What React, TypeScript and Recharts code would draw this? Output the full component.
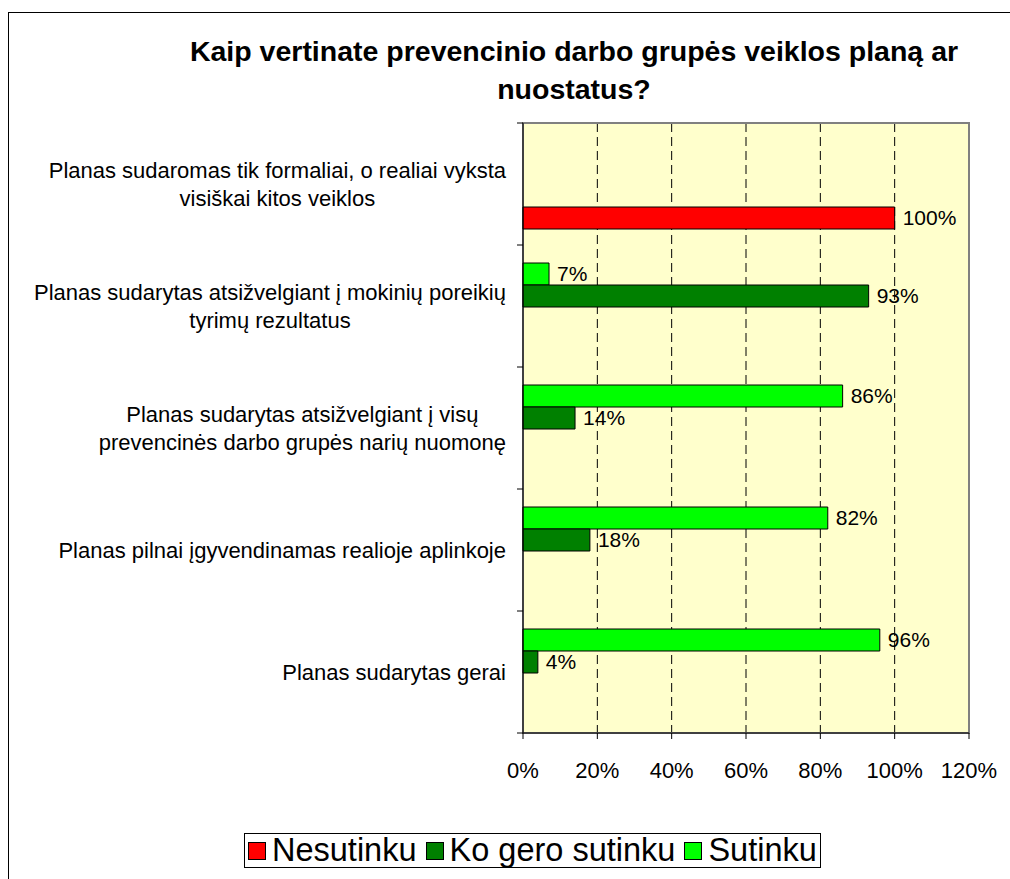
import React from "react";
import {
  BarChart,
  Bar,
  XAxis,
  YAxis,
  CartesianGrid,
  LabelList,
  ReferenceArea,
} from "recharts";

const categories = [
  "Planas sudaromas tik formaliai, o realiai vyksta\nvisiškai kitos veiklos",
  "Planas sudarytas atsižvelgiant į mokinių poreikių\ntyrimų rezultatus",
  "Planas sudarytas atsižvelgiant į visų\nprevencinės darbo grupės narių nuomonę",
  "Planas pilnai įgyvendinamas realioje aplinkoje",
  "Planas sudarytas gerai",
];
const nesutinku = [100, null, null, null, null];
const koGeroSutinku = [null, 93, 14, 18, 4];
const sutinku = [null, 7, 86, 82, 96];
const xTicks = [0, 20, 40, 60, 80, 100, 120];
const legendNames = ["Nesutinku", "Ko gero sutinku", "Sutinku"];
const legendColors = ["#FF0000", "#008000", "#00FF00"];

const FONT = "'Liberation Sans', Arial, sans-serif";

const data = categories.map((name, i) => ({
  name,
  nesutinku: nesutinku[i],
  koGero: koGeroSutinku[i],
  sutinku: sutinku[i],
}));

let ctx: CanvasRenderingContext2D | null = null;
function textWidth(text: string, font: string) {
  if (!ctx) ctx = document.createElement("canvas").getContext("2d");
  if (!ctx) return text.length * 10;
  ctx.font = font;
  return ctx.measureText(text).width;
}

// category label, wrapped and centred like Excel; also draws the
// boundary tick marks between categories
function CategoryTick(props: any) {
  const { x, y, payload, index, visibleTicksCount } = props;
  const lines = String(payload.value).split("\n");
  const size = 22;
  const widths = lines.map((l) => textWidth(l, `${size}px Liberation Sans`));
  const maxW = Math.max(...widths);
  const right = x - 9;
  const cx = right - maxW / 2;
  const lh = 28;
  const half = payload.offset || 0;
  const axisX = x + 8;
  return (
    <g>
      <line x1={axisX - 6} x2={axisX} y1={y - half} y2={y - half} stroke="#000" />
      {index === visibleTicksCount - 1 && (
        <line x1={axisX - 6} x2={axisX} y1={y + half} y2={y + half} stroke="#000" />
      )}
      {lines.map((l, i) => (
        <text
          key={i}
          x={cx}
          y={y + (i - (lines.length - 1) / 2) * lh}
          dy="0.35em"
          textAnchor="middle"
          fontSize={size}
          fontFamily={FONT}
          fill="#000"
        >
          {l}
        </text>
      ))}
    </g>
  );
}

const pct = (v: any) => (v == null ? "" : `${v}%`);

function App() {
  return (
    <div
      style={{
        position: "absolute",
        left: 8,
        top: 12,
        width: 1002,
        height: 867,
        borderTop: "1px solid #000",
        borderLeft: "1px solid #000",
        background: "#fff",
        fontFamily: FONT,
        overflow: "hidden",
      }}
    >
      <div
        style={{
          position: "absolute",
          left: 142,
          top: 19,
          width: 846,
          textAlign: "center",
          fontWeight: "bold",
          fontSize: 28.5,
          lineHeight: "38px",
        }}
      >
        Kaip vertinate prevencinio darbo grupės veiklos planą ar
        <br />
        nuostatus?
      </div>
      <BarChart
        width={1001}
        height={866}
        data={data}
        layout="vertical"
        margin={{ top: 110, right: 41, left: 0, bottom: 86 }}
        barGap={0}
        barCategoryGap={18}
      >
        <CartesianGrid
          horizontal={false}
          fill="#FFFFCC"
          stroke="#000"
          strokeDasharray="9 5"
          verticalValues={[20, 40, 60, 80, 100]}
        />
        <ReferenceArea x1={0} x2={120} fill="none" stroke="#808080" strokeWidth={2} />
        <XAxis
          type="number"
          domain={[0, 120]}
          ticks={xTicks}
          tickFormatter={pct}
          height={60}
          tickSize={6}
          tickMargin={23}
          stroke="#000"
          tick={{ fill: "#000", fontSize: 22, fontFamily: FONT }}
        />
        <YAxis
          type="category"
          dataKey="name"
          width={514}
          tickLine={false}
          stroke="#000"
          tick={<CategoryTick />}
          interval={0}
        />
        <Bar dataKey="sutinku" fill="#00FF00" stroke="#000" strokeWidth={1} isAnimationActive={false}>
          <LabelList dataKey="sutinku" position="right" offset={8} formatter={pct} fill="#000" fontSize={21} fontFamily={FONT} />
        </Bar>
        <Bar dataKey="koGero" fill="#008000" stroke="#000" strokeWidth={1} isAnimationActive={false}>
          <LabelList dataKey="koGero" position="right" offset={8} formatter={pct} fill="#000" fontSize={21} fontFamily={FONT} />
        </Bar>
        <Bar dataKey="spacer" fill="none" isAnimationActive={false} />
        <Bar dataKey="nesutinku" fill="#FF0000" stroke="#000" strokeWidth={1} isAnimationActive={false}>
          <LabelList dataKey="nesutinku" position="right" offset={8} formatter={pct} fill="#000" fontSize={21} fontFamily={FONT} />
        </Bar>
      </BarChart>
      <div
        style={{
          position: "absolute",
          left: 235,
          top: 820,
          height: 33,
          border: "1px solid #000",
          background: "#fff",
          display: "flex",
          alignItems: "center",
          padding: "0 3px",
          fontSize: 32.5,
          whiteSpace: "nowrap",
        }}
      >
        {legendNames.map((n, i) => (
          <span key={n} style={{ display: "flex", alignItems: "center", marginRight: i < 2 ? 9 : 0 }}>
            <span
              style={{
                display: "inline-block",
                width: 16,
                height: 16,
                background: legendColors[i],
                border: "1px solid #000",
                marginRight: 6,
              }}
            />
            {n}
          </span>
        ))}
      </div>
    </div>
  );
}

export default App;
